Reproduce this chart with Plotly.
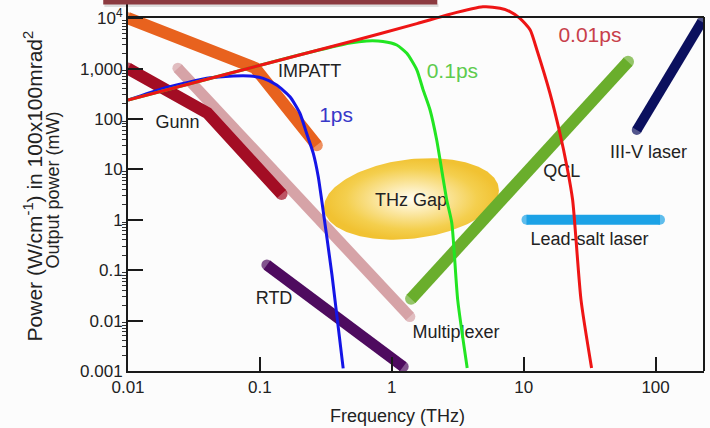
import numpy as np
import plotly.graph_objects as go

# ---- source bands: frequency (THz) vs output power (mW) ----
impatt_f = [0.01, 0.092, 0.27]
impatt_p = [10000, 1030, 30]

gunn_f = [0.01, 0.040, 0.146]
gunn_p = [1000, 132, 3.25]

mux_f = [0.0239, 1.37]
mux_p = [1020, 0.012]

rtd_f = [0.113, 1.22]
rtd_p = [0.127, 0.00122]

qcl_f = [1.4, 61.8]
qcl_p = [0.027, 1370]

iiiv_f = [72, 224]
iiiv_p = [60.5, 8500]

leadsalt_f = [10.5, 108]
leadsalt_p = [1.0, 1.0]

# ---- pulse spectra ----
ps1_f = [0.01, 0.0185, 0.0279, 0.0395, 0.0629, 0.0841, 0.106, 0.134, 0.169,
         0.201, 0.226, 0.254, 0.277, 0.294, 0.352, 0.428]
ps1_p = [238, 406, 525, 641, 713, 713, 641, 473, 277,
         130, 52, 20.8, 7.16, 2.47, 0.0804, 0.00113]

ps01_f = [0.01, 0.201, 0.482, 0.646, 0.857, 1.09, 1.30, 1.55, 1.73, 1.95,
          2.19, 2.39, 2.61, 2.85, 3.16, 3.73]
ps01_p = [238, 1880, 3220, 3530, 3450, 2940, 2010, 937, 376, 151,
          38.3, 9.73, 2.47, 0.865, 0.0257, 0.00115]

ps001_f = [0.01, 0.482, 1.55, 2.76, 4.91, 6.61, 7.87, 9.37, 11.2, 12.6,
           15.8, 18.8, 21.3, 23.5, 27.2, 32.7]
ps001_p = [238, 3420, 7800, 12000, 16800, 15700, 13500, 9950, 5830, 2340,
           328, 52.7, 11.2, 2.47, 0.0257, 0.00115]

# ---- "THz gap" region: frequency span, power span, tilt (decades) ----
gap_f_span = [0.306, 6.49]
gap_p_span = [0.42, 16.0]
gap_tilt = 0.17

# ---- axes ----
x_ticks = [0.01, 0.1, 1, 10, 100]
x_ticktext = ["0.01", "0.1", "1", "10", "100"]
y_ticks = [0.001, 0.01, 0.1, 1, 10, 100, 1000, 10000]
y_ticktext = ["0.001", "0.01", "0.1", "1", "10", "100", "1,000", "10<sup>4</sup>"]
x_range = [-2, 2.367]
y_range = [-3, 4.361]
frame_top = 10570

FONT = "Liberation Sans, Arial, sans-serif"
INK = "#1a1a1a"

fig = go.Figure()


def band(f, p, color, width):
    sizes = [width] + [0] * (len(f) - 2) + [width]
    fig.add_trace(go.Scatter(
        x=f, y=p, mode="lines+markers",
        line=dict(color=color, width=width),
        marker=dict(size=sizes, color=color, line=dict(width=0)),
        hoverinfo="skip"))


def curve(f, p, color):
    fig.add_trace(go.Scatter(
        x=f, y=p, mode="lines",
        line=dict(color=color, width=3, shape="spline", smoothing=0.6),
        hoverinfo="skip"))


def label(x, y, text, color="#222222", size=18):
    fig.add_trace(go.Scatter(
        x=[x], y=[y], mode="text", text=[text],
        textposition="middle center",
        textfont=dict(family=FONT, size=size, color=color),
        hoverinfo="skip"))


band(mux_f, mux_p, "#D6A3A7", 11)
band(gunn_f, gunn_p, "#A30D24", 12)
band(impatt_f, impatt_p, "#E8621E", 12)
band(rtd_f, rtd_p, "#4E0B5F", 11)

# THz gap ellipse (in log-log space) with radial gradient
lf = np.log10(gap_f_span)
lp = np.log10(gap_p_span)
cx, cy = lf.mean(), lp.mean()
ax_, ay_ = (lf[1] - lf[0]) / 2, (lp[1] - lp[0]) / 2
t = np.linspace(0, 2 * np.pi, 181)
ex = 10 ** (cx + ax_ * np.cos(t))
ey = 10 ** (cy + ay_ * np.sin(t) + gap_tilt * np.cos(t))
fig.add_trace(go.Scatter(
    x=ex, y=ey, mode="lines", fill="toself",
    line=dict(width=0, color="rgba(0,0,0,0)"),
    fillgradient=dict(type="radial",
                      colorscale=[[0, "#FFFDF2"], [0.3, "#FCEBB2"],
                                  [0.75, "#F4CF4E"], [1, "#F1C232"]]),
    hoverinfo="skip"))

band(qcl_f, qcl_p, "#6AAE2C", 12)
band(iiiv_f, iiiv_p, "#0B105E", 10)
band(leadsalt_f, leadsalt_p, "#1CA2E6", 10)

label(0.238, 818, "IMPATT")
label(0.0237, 79.6, "Gunn")
label(19.4, 8.5, "QCL")
label(88.3, 21.1, "III-V laser")
label(31.5, 0.385, "Lead-salt laser")
label(3.07, 0.00567, "Multiplexer")
label(0.128, 0.0257, "RTD")
label(1.40, 2.29, "THz Gap")

curve(ps1_f, ps1_p, "#1515E6")
curve(ps01_f, ps01_p, "#22E522")
curve(ps001_f, ps001_p, "#EE1515")

label(0.378, 110, "1ps", "#3838C8", 21)
label(2.88, 837, "0.1ps", "#5ECB4E", 21)
label(31.8, 4240, "0.01ps", "#C8404A", 21)

minor_vals = [k * 10.0 ** n for n in range(-3, 4) for k in range(2, 10)]

frame_y = (np.log10(frame_top) - y_range[0]) / (y_range[1] - y_range[0])

fig.update_layout(
    width=710, height=428,
    margin=dict(l=128, r=6, t=0, b=57),
    paper_bgcolor="#FCFCFC", plot_bgcolor="#FCFCFC",
    showlegend=False,
    font=dict(family=FONT, color="#222222"),
    xaxis=dict(type="log", range=x_range, tickvals=x_ticks, ticktext=x_ticktext,
               ticks="inside", ticklen=14, tickwidth=2, tickcolor=INK,
               showline=True, linewidth=2, linecolor=INK,
               showgrid=False, zeroline=False,
               tickfont=dict(family=FONT, size=17, color="#222222")),
    yaxis=dict(type="log", range=y_range, tickvals=y_ticks, ticktext=y_ticktext,
               ticks="inside", ticklen=15, tickwidth=2, tickcolor=INK,
               showline=True, linewidth=2, linecolor=INK,
               showgrid=False, zeroline=False,
               tickfont=dict(family=FONT, size=17, color="#222222"),
               minor=dict(ticks="outside", ticklen=4, tickwidth=1,
                          tickcolor="#333333", tickvals=minor_vals,
                          showgrid=False)),
    shapes=[
        # top and right frame edges
        dict(type="line", xref="paper", yref="paper", x0=0, x1=1,
             y0=frame_y, y1=frame_y, line=dict(color=INK, width=2)),
        dict(type="line", xref="paper", yref="paper", x0=1, x1=1,
             y0=0, y1=frame_y, line=dict(color=INK, width=2)),
        # header bar and its shadow
        dict(type="rect", xref="paper", yref="paper", x0=-0.041, x1=0.539,
             y0=0.981, y1=0.99, fillcolor="rgba(0,0,0,0.12)", line=dict(width=0),
             layer="above"),
        dict(type="rect", xref="paper", yref="paper", x0=-0.043, x1=0.537,
             y0=0.988, y1=1.02, fillcolor="#8C3A40", line=dict(width=0),
             layer="above"),
    ],
    annotations=[
        dict(text="Power (W/cm<sup>-1</sup>) in 100x100mrad<sup>2</sup>",
             xref="paper", yref="paper", x=-0.165, y=0.50, textangle=-90,
             showarrow=False, xanchor="center", yanchor="middle",
             font=dict(family=FONT, size=21, color="#222222")),
        dict(text="Output power (mW)",
             xref="paper", yref="paper", x=-0.13, y=0.487, textangle=-90,
             showarrow=False, xanchor="center", yanchor="middle",
             font=dict(family=FONT, size=18, color="#222222")),
        dict(text="Frequency (THz)",
             xref="paper", yref="paper", x=0.468, y=-0.1213,
             showarrow=False, xanchor="center", yanchor="middle",
             font=dict(family=FONT, size=18, color="#222222")),
    ],
)

fig.write_html("out.html")
